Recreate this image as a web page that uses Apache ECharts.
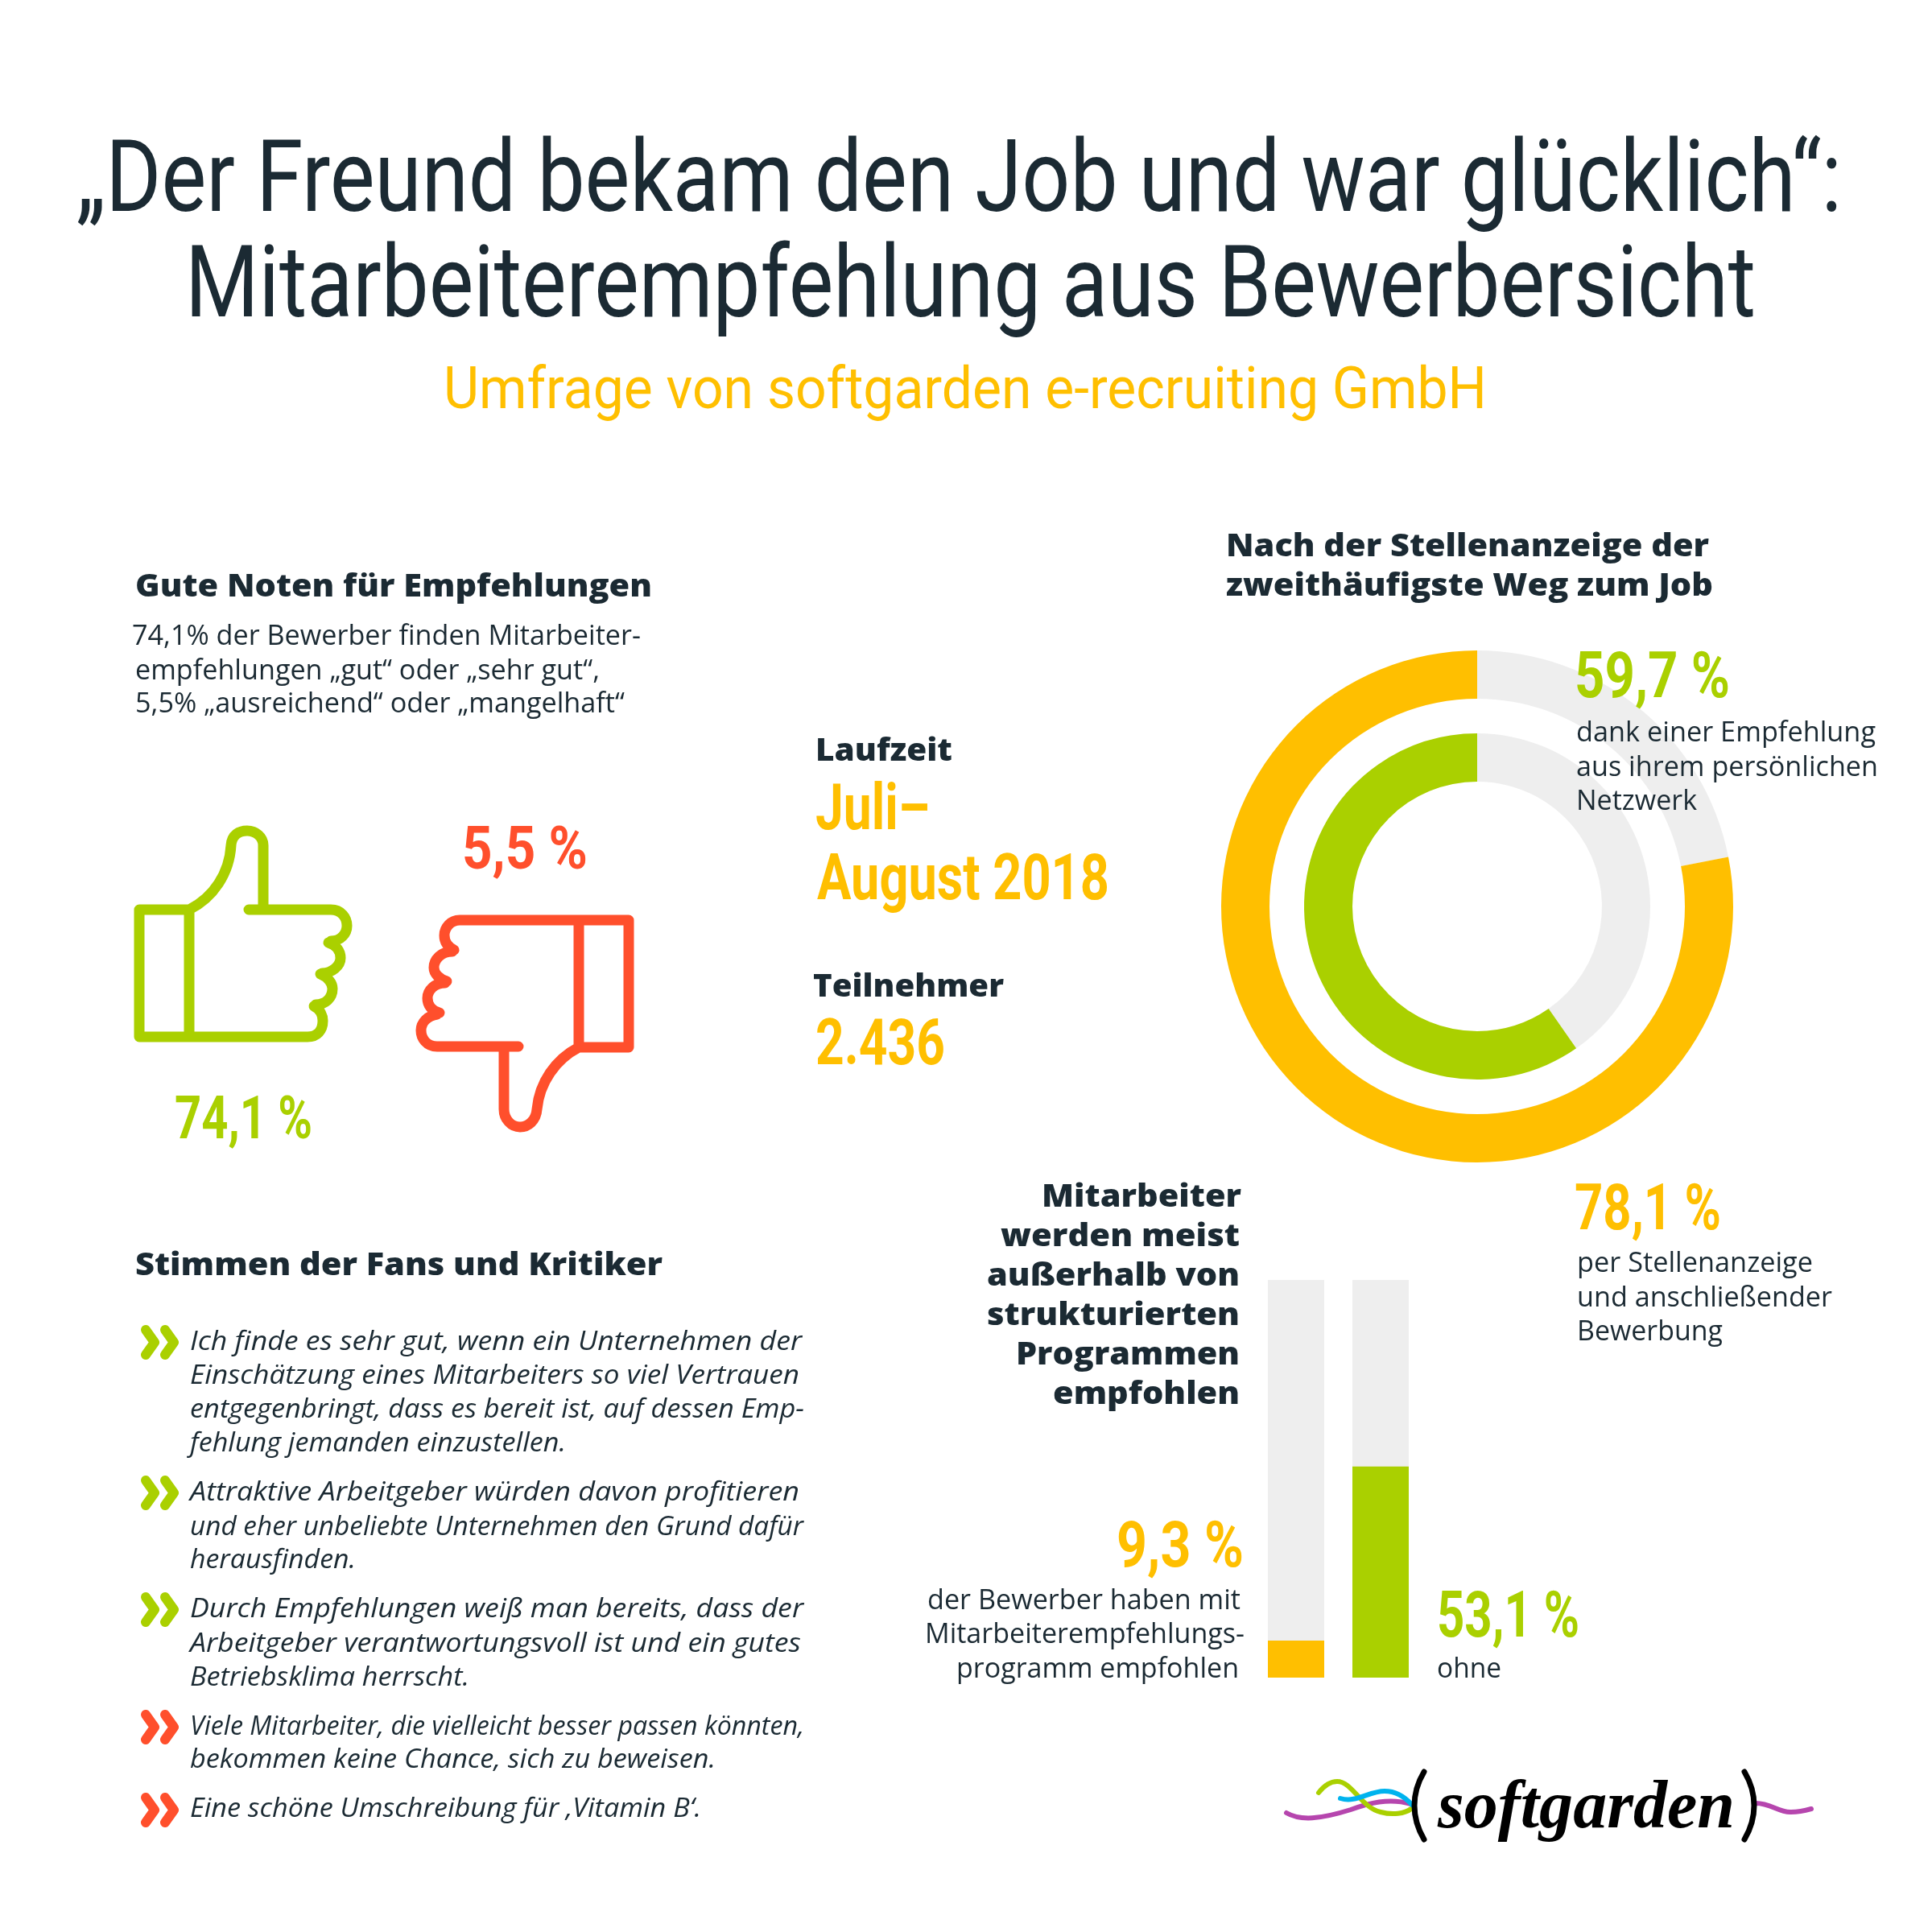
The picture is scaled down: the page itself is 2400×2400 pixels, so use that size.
<!DOCTYPE html>
<html>
<head>
<meta charset="utf-8">
<title>Mitarbeiterempfehlung aus Bewerbersicht</title>
<script src="https://cdn.jsdelivr.net/npm/echarts@6/dist/echarts.min.js"></script>
<style>
	html, body { margin: 0; background: #fff; }
	#chart { width: 2400px; height: 2400px; }
</style>
</head>
<body>
<div id="chart"></div>
<script>
// Ringe: Anteil in Prozent, grau + farbig
const outerRingNames = ['sonstige', 'per Stellenanzeige und anschließender Bewerbung']
const outerRingValues = [21.9, 78.1]
const innerRingNames = ['sonstige', 'dank einer Empfehlung aus ihrem persönlichen Netzwerk']
const innerRingValues = [40.3, 59.7]

// Balken
const barCategories = ['mit Mitarbeiterempfehlungsprogramm', 'ohne']
const barValues = [9.3, 53.1]

const titleLines = ['„Der Freund bekam den Job und war glücklich“:', 'Mitarbeiterempfehlung aus Bewerbersicht']
const subtitle = 'Umfrage von softgarden e-recruiting GmbH'
const quoteLines = [
	'Ich finde es sehr gut, wenn ein Unternehmen der',
	'Einschätzung eines Mitarbeiters so viel Vertrauen',
	'entgegenbringt, dass es bereit ist, auf dessen Emp-',
	'fehlung jemanden einzustellen.',
	'Attraktive Arbeitgeber würden davon profitieren',
	'und eher unbeliebte Unternehmen den Grund dafür',
	'herausfinden.',
	'Durch Empfehlungen weiß man bereits, dass der',
	'Arbeitgeber verantwortungsvoll ist und ein gutes',
	'Betriebsklima herrscht.',
	'Viele Mitarbeiter, die vielleicht besser passen könnten,',
	'bekommen keine Chance, sich zu beweisen.',
	'Eine schöne Umschreibung für ‚Vitamin B‘.'
]

const AMBER = '#ffbf00'
const GREEN = '#aad000'
const RED = '#ff4f2c'
const DARK = '#1b2a33'
const GREY = '#eeeeee'

const NARROW = '"Liberation Sans Narrow", "Roboto", sans-serif'
const BODY = '"Open Sans", sans-serif'
const fontTitle = `400 124px ${NARROW}`
const fontSub = `400 72px ${NARROW}`
const fontNum = `700 74px ${NARROW}`
const fontNumBig = `700 80px ${NARROW}`
const fontHead = `800 38px ${BODY}`
const fontBody = `400 34px ${BODY}`
const fontQuote = `italic 400 32px ${BODY}`

const measureCtx = document.createElement('canvas').getContext('2d')

/**
 * Textzeile von x0 bis x1, y ist die Zeilenmitte
 */
function line(text, x0, x1, y, font, fill) {
	measureCtx.font = font
	return {
		type: 'text',
		silent: true,
		z: 10,
		x: x0,
		y: y,
		scaleX: (x1 - x0) / measureCtx.measureText(text).width,
		style: { text: text, font: font, fill: fill, align: 'left', verticalAlign: 'middle' }
	}
}

// graphic kennt keinen path-Typ, darum jede Form registrieren
let shapeCount = 0
function stroke(pathData, color, width) {
	const name = 'iconPath' + shapeCount++
	echarts.graphic.registerShape(name, echarts.graphic.extendPath(pathData))
	return {
		type: name,
		silent: true,
		style: { fill: 'none', stroke: color, lineWidth: width, lineCap: 'round', lineJoin: 'round' }
	}
}

function chevrons(y, color) {
	const d = [181, 205].map(x => `M${x} ${y + 6}L${x + 11} ${y + 21.5}L${x} ${y + 37}`).join('')
	return stroke(d, color, 12)
}

const thumbUp = 'M173 1130H235C265 1115 285 1085 287 1050C288 1037 297 1032 307 1032C318 1032 327 1040 327 1050V1130'
	+ 'M309 1130H411C424 1130 431 1140 431 1150C431 1160 423 1169 411 1169'
	+ 'M408 1171C418 1174 423 1182 423 1190C423 1200 412 1209 400 1209'
	+ 'M398 1210C408 1214 413 1222 413 1228C413 1240 404 1248 392 1248'
	+ 'M390 1250C398 1254 401 1262 401 1268C401 1280 394 1288 382 1288H173V1130'
	+ 'M235 1130V1288'
const thumbDown = 'M719 1301C690 1316 670 1345 667 1378C666 1392 656 1400 646 1400C635 1400 626 1390 626 1378V1300'
	+ 'M644 1300H543C530 1300 523 1290 523 1280C523 1270 531 1262 543 1260'
	+ 'M546 1258C536 1256 531 1248 531 1240C531 1230 540 1221 553 1221'
	+ 'M555 1219C545 1216 539 1209 539 1202C539 1192 548 1182 562 1182'
	+ 'M564 1180C556 1176 552 1170 552 1162C552 1152 560 1143 571 1143H781V1301H719V1143'

const graphics = [
	line(titleLines[0], 95, 2288, 231, fontTitle, DARK),
	line(titleLines[1], 230, 2181, 362, fontTitle, DARK),
	line(subtitle, 551, 1847, 489, fontSub, AMBER),

	line('Gute Noten für Empfehlungen', 168, 810, 730, fontHead, DARK),
	line('74,1% der Bewerber finden Mitarbeiter-', 164, 796, 791, fontBody, DARK),
	line('empfehlungen „gut“ oder „sehr gut“,', 168, 745, 834, fontBody, DARK),
	line('5,5% „ausreichend“ oder „mangelhaft“', 168, 776, 875, fontBody, DARK),

	stroke(thumbUp, GREEN, 13),
	stroke(thumbDown, RED, 13),
	line('5,5 %', 574, 730, 1060, fontNum, RED),
	line('74,1 %', 217, 388, 1395, fontNum, GREEN),

	line('Laufzeit', 1013, 1183, 934, fontHead, DARK),
	line('Juli–', 1013, 1155, 1010, fontNumBig, AMBER),
	line('August 2018', 1015, 1378, 1097, fontNumBig, AMBER),
	line('Teilnehmer', 1010, 1247, 1227, fontHead, DARK),
	line('2.436', 1013, 1174, 1302, fontNumBig, AMBER),

	line('Nach der Stellenanzeige der', 1523, 2123, 680, fontHead, DARK),
	line('zweithäufigste Weg zum Job', 1523, 2128, 729, fontHead, DARK),
	line('59,7 %', 1956, 2149, 846, fontNumBig, GREEN),
	line('dank einer Empfehlung', 1958, 2330, 911, fontBody, DARK),
	line('aus ihrem persönlichen', 1958, 2333, 954, fontBody, DARK),
	line('Netzwerk', 1958, 2108, 996, fontBody, DARK),
	line('78,1 %', 1956, 2138, 1507, fontNumBig, AMBER),
	line('per Stellenanzeige', 1959, 2252, 1570, fontBody, DARK),
	line('und anschließender', 1959, 2276, 1613, fontBody, DARK),
	line('Bewerbung', 1959, 2140, 1655, fontBody, DARK),

	line('Mitarbeiter', 1294, 1542, 1488, fontHead, DARK),
	line('werden meist', 1243, 1540, 1537, fontHead, DARK),
	line('außerhalb von', 1226, 1540, 1586, fontHead, DARK),
	line('strukturierten', 1226, 1540, 1635, fontHead, DARK),
	line('Programmen', 1262, 1540, 1684, fontHead, DARK),
	line('empfohlen', 1308, 1540, 1733, fontHead, DARK),
	line('9,3 %', 1387, 1545, 1926, fontNumBig, AMBER),
	line('der Bewerber haben mit', 1152, 1541, 1989, fontBody, DARK),
	line('Mitarbeiterempfehlungs-', 1149, 1546, 2031, fontBody, DARK),
	line('programm empfohlen', 1188, 1539, 2074, fontBody, DARK),
	line('53,1 %', 1785, 1962, 2013, fontNumBig, GREEN),
	line('ohne', 1785, 1865, 2074, fontBody, DARK),

	line('Stimmen der Fans und Kritiker', 168, 823, 1573, fontHead, DARK),
	chevrons(1646, GREEN),
	chevrons(1833, GREEN),
	chevrons(1978, GREEN),
	chevrons(2124, RED),
	chevrons(2227, RED),

	// Logo
	stroke('M1598 2252C1615 2262 1640 2260 1678 2248C1700 2240 1725 2233 1753 2241', '#b646ae', 6),
	stroke('M2181 2240C2200 2240 2210 2252 2225 2251C2235 2251 2243 2249 2250 2247', '#b646ae', 6),
	stroke('M1638 2227C1645 2218 1652 2213 1661 2213C1680 2213 1690 2245 1715 2251C1730 2255 1745 2253 1753 2247', GREEN, 6),
	stroke('M1665 2234C1685 2240 1700 2225 1720 2225C1735 2225 1745 2232 1754 2242', '#00b3ee', 6),
	stroke('M1769 2201C1753 2228 1753 2258 1769 2285', '#000000', 7),
	stroke('M2167 2201C2183 2228 2183 2258 2167 2285', '#000000', 7),
	line('softgarden', 1786, 2155, 2248, 'italic 700 84px "Liberation Serif", serif', '#000000')
]

const quoteX = [
	[996, 1668], [993, 1710], [999, 1752], [703, 1794],
	[993, 1855], [998, 1898], [442, 1939],
	[998, 2000], [995, 2043], [583, 2085],
	[999, 2146], [889, 2187],
	[871, 2248]
]
quoteLines.forEach((text, i) => {
	graphics.push(line(text, 236, quoteX[i][0], quoteX[i][1], fontQuote, DARK))
})

function ring(names, values, radius, color) {
	return {
		type: 'pie',
		silent: true,
		z: 1,
		center: [1835, 1126],
		radius: radius,
		startAngle: 90,
		clockwise: true,
		label: { show: false },
		labelLine: { show: false },
		data: values.map((v, i) => ({
			name: names[i],
			value: v,
			itemStyle: { color: i === 0 ? GREY : color }
		}))
	}
}

const chart = echarts.init(document.getElementById('chart'))
chart.setOption({
	animation: false,
	backgroundColor: '#ffffff',
	grid: { left: 1557.5, top: 1590, width: 210, height: 494 },
	xAxis: { type: 'category', show: false, data: barCategories },
	yAxis: { type: 'value', show: false, min: 0, max: 100 },
	series: [
		ring(outerRingNames, outerRingValues, [258, 318], AMBER),
		ring(innerRingNames, innerRingValues, [155, 215], GREEN),
		{
			type: 'bar',
			silent: true,
			barWidth: 70,
			showBackground: true,
			backgroundStyle: { color: GREY },
			data: barValues.map((v, i) => ({ value: v, itemStyle: { color: i === 0 ? AMBER : GREEN } }))
		}
	],
	graphic: { elements: graphics }
})
</script>
</body>
</html>
